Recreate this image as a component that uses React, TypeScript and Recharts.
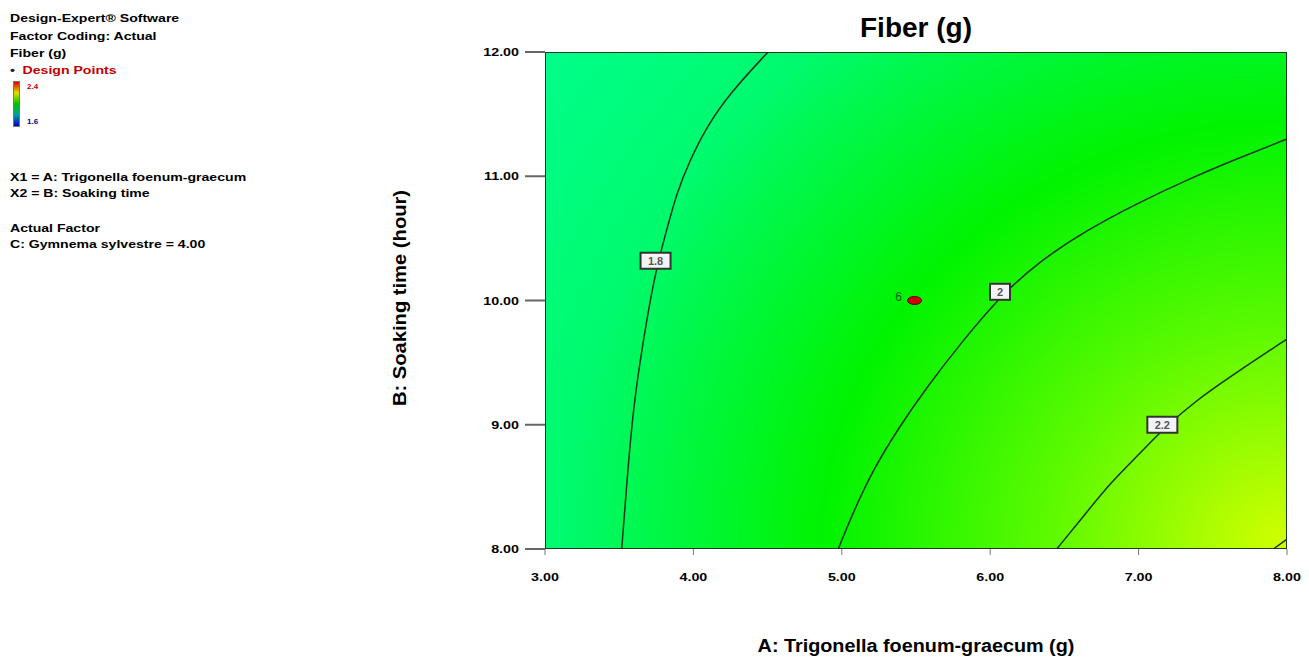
import React from 'react'
import {
  ComposedChart, Line, Scatter, XAxis, YAxis, ReferenceArea,
} from 'recharts'

// contour lines (A = x, B = y)
const contour18 = [
  { x: 3.517, y: 8.0 }, { x: 3.551, y: 8.53 }, { x: 3.595, y: 9.145 }, { x: 3.662, y: 9.68 },
  { x: 3.741, y: 10.22 }, { x: 3.82, y: 10.567 }, { x: 3.887, y: 10.865 }, { x: 3.977, y: 11.13 },
  { x: 4.09, y: 11.4 }, { x: 4.247, y: 11.67 }, { x: 4.503, y: 12.0 },
]
const contour20 = [
  { x: 4.976, y: 8.0 }, { x: 5.078, y: 8.3 }, { x: 5.212, y: 8.64 }, { x: 5.38, y: 8.97 },
  { x: 5.572, y: 9.3 }, { x: 5.797, y: 9.65 }, { x: 6.066, y: 10.03 }, { x: 6.313, y: 10.3 },
  { x: 6.65, y: 10.567 }, { x: 6.987, y: 10.78 }, { x: 7.324, y: 10.97 }, { x: 7.661, y: 11.14 },
  { x: 8.0, y: 11.3 },
]
const contour22 = [
  { x: 6.448, y: 8.0 }, { x: 6.627, y: 8.26 }, { x: 6.807, y: 8.53 }, { x: 7.009, y: 8.77 },
  { x: 7.178, y: 8.98 }, { x: 7.391, y: 9.2 }, { x: 7.683, y: 9.44 }, { x: 8.0, y: 9.69 },
]
const contour24 = [
  { x: 7.908, y: 8.0 }, { x: 8.0, y: 8.08 },
]
const contourLabels = [
  { x: 3.745, y: 10.32, text: '1.8' },
  { x: 6.066, y: 10.07, text: '2' },
  { x: 7.16, y: 9.0, text: '2.2' },
]
const designPoints = [{ x: 5.49, y: 10.0, count: '6' }]

const xTicks = [3, 4, 5, 6, 7, 8]
const yTicks = [8, 9, 10, 11, 12]

const legendLines = [
  'Design-Expert® Software',
  'Factor Coding: Actual',
  'Fiber (g)',
]

const font = '"Liberation Sans", Arial, sans-serif'
const lineColor = '#12361a'

function XTick({ x, y, payload }: any) {
  return (
    <g transform={`translate(${x},${y + 24})`}>
      <text textAnchor="middle" fontSize={11} fontWeight="bold" fill="#000" fontFamily={font} transform="scale(1.3,1)">
        {payload.value.toFixed(2)}
      </text>
    </g>
  )
}

function YTick({ x, y, payload }: any) {
  return (
    <g transform={`translate(${x - 4},${y + 4})`}>
      <text textAnchor="end" fontSize={11} fontWeight="bold" fill="#000" fontFamily={font} transform="scale(1.3,1)">
        {payload.value.toFixed(2)}
      </text>
    </g>
  )
}

function LabelBox({ cx, cy, payload }: any) {
  const w = payload.text.length > 1 ? 30 : 20
  return (
    <g>
      <rect x={cx - w / 2} y={cy - 8} width={w} height={16} fill="#f4f4f8" stroke="#333" strokeWidth={2} />
      <text x={cx} y={cy + 4} textAnchor="middle" fontSize={11} fontWeight="bold" fill="#555" fontFamily={font}>
        {payload.text}
      </text>
    </g>
  )
}

function DesignPoint({ cx, cy, payload }: any) {
  return (
    <g>
      <ellipse cx={cx} cy={cy} rx={7} ry={4} fill="#d00000" stroke="#5a0000" strokeWidth={1} />
      <text x={cx - 16} y={cy} textAnchor="middle" fontSize={12} fill="#0b5a14" fontFamily={font}>
        {payload.count}
      </text>
    </g>
  )
}

const textStyle: React.CSSProperties = {
  position: 'absolute', left: 10, fontSize: 11, fontWeight: 'bold', whiteSpace: 'nowrap',
  transform: 'scaleX(1.28)', transformOrigin: 'left', lineHeight: '12px',
}

export default function App() {
  return (
    <div style={{ position: 'absolute', left: 0, top: 0, width: 1309, height: 659, background: '#fff', fontFamily: font }}>
      {legendLines.map((t, i) => (
        <div key={t} style={{ ...textStyle, top: 12 + i * 17.5 }}>{t}</div>
      ))}
      <div style={{ ...textStyle, top: 64, color: '#c00000' }}>
        <span style={{ color: '#222', marginRight: 6 }}>•</span>Design Points
      </div>
      <div style={{
        position: 'absolute', left: 13, top: 81, width: 5, height: 44, border: '1px solid #777',
        background: 'linear-gradient(#e00000, #e0e000 25%, #00c000 50%, #00a0a0 75%, #0000c0)',
      }} />
      <div style={{ position: 'absolute', left: 27, top: 82, fontSize: 8, fontWeight: 'bold', color: '#c00000' }}>2.4</div>
      <div style={{ position: 'absolute', left: 27, top: 117, fontSize: 8, fontWeight: 'bold', color: '#000080' }}>1.6</div>
      <div style={{ ...textStyle, top: 171 }}>X1 = A: Trigonella foenum-graecum</div>
      <div style={{ ...textStyle, top: 187 }}>X2 = B: Soaking time</div>
      <div style={{ ...textStyle, top: 222 }}>Actual Factor</div>
      <div style={{ ...textStyle, top: 238 }}>C: Gymnema sylvestre = 4.00</div>

      <div style={{ position: 'absolute', left: 545, width: 742, top: 12, textAlign: 'center', fontSize: 28, fontWeight: 'bold' }}>
        Fiber (g)
      </div>
      <div style={{
        position: 'absolute', left: 545, width: 742, top: 636, textAlign: 'center', fontSize: 18, fontWeight: 'bold',
        transform: 'scaleX(1.1)',
      }}>
        A: Trigonella foenum-graecum (g)
      </div>
      <div style={{
        position: 'absolute', left: 400, top: 298, fontSize: 18, fontWeight: 'bold', whiteSpace: 'nowrap',
        transform: 'translate(-50%, -50%) rotate(-90deg) scaleX(1.12)',
      }}>
        B: Soaking time (hour)
      </div>

      <div style={{ position: 'absolute', left: 0, top: 0 }}>
        <ComposedChart width={1309} height={659} margin={{ top: 52, right: 22, bottom: 80, left: 385 }}>
          <defs>
            <radialGradient id="fiberField" cx="1" cy="1" r="1.25" gradientUnits="objectBoundingBox"
              gradientTransform="translate(1,1) scale(1,1.37) translate(-1,-1)">
              <stop offset="0" stopColor="#d4ff00" />
              <stop offset="0.25" stopColor="#60fa00" />
              <stop offset="0.5" stopColor="#00f400" />
              <stop offset="0.78" stopColor="#00fa6e" />
              <stop offset="1" stopColor="#00ff8c" />
            </radialGradient>
          </defs>
          <XAxis
            type="number" dataKey="x" domain={[3, 8]} ticks={xTicks} allowDataOverflow
            height={30} tick={<XTick />} tickSize={6} axisLine={false}
            tickLine={{ stroke: '#777' }}
          />
          <YAxis
            type="number" dataKey="y" domain={[8, 12]} ticks={yTicks} allowDataOverflow
            width={160} tick={<YTick />} tickSize={20} axisLine={false}
            tickLine={{ stroke: '#666', strokeWidth: 2 }}
          />
          <ReferenceArea x1={3} x2={8} y1={8} y2={12} fill="url(#fiberField)" fillOpacity={1}
            stroke="#1f3a24" strokeWidth={2} ifOverflow="hidden" />
          {[contour18, contour20, contour22, contour24].map((c, i) => (
            <Line key={i} data={c} dataKey="y" type="basis" stroke={lineColor} strokeWidth={1.5}
              dot={false} activeDot={false} isAnimationActive={false} />
          ))}
          <Scatter data={contourLabels} shape={<LabelBox />} isAnimationActive={false} />
          <Scatter data={designPoints} shape={<DesignPoint />} isAnimationActive={false} />
        </ComposedChart>
      </div>
    </div>
  )
}
